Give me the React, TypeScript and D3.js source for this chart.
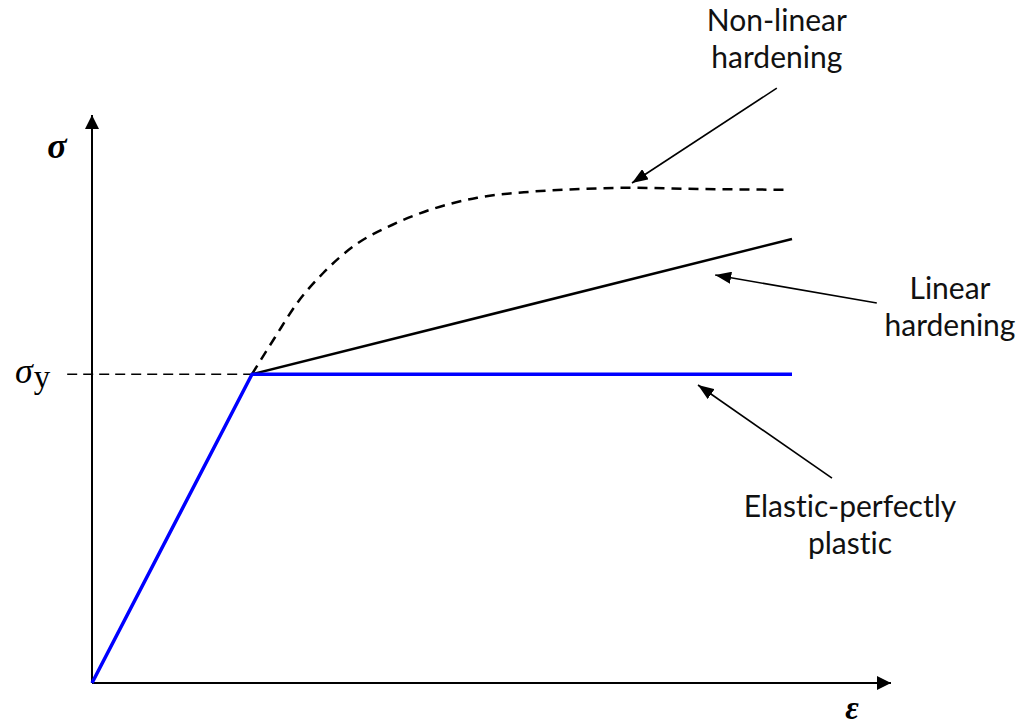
import React from 'react';
import * as d3 from 'd3';

// Chart values in arbitrary strain / stress units
const xMax = 20;
const yMax = 14.2;
const yieldPoint: [number, number] = [4.0, 7.72];
const strainEnd = 17.5;
const linearEndStress = 11.1;

// Non-linear hardening curve
const nonLinearX = [4.0, 4.58, 5.13, 5.78, 6.58, 7.5, 8.45, 9.63, 10.95, 12.2, 13.45, 15.2, 17.45];
const nonLinearY = [7.72, 8.65, 9.5, 10.25, 10.95, 11.45, 11.83, 12.13, 12.28, 12.35, 12.38, 12.35, 12.33];

// Annotation labels and their arrows (tail -> tip), in data units
const labels = [
  { lines: ['Non-linear', 'hardening'], x: 17.12, y: 16.3, tail: [17.12, 14.87], tip: [13.5, 12.5] },
  { lines: ['Linear', 'hardening'], x: 21.45, y: 9.6, tail: [19.62, 9.5], tip: [15.58, 10.2] },
  { lines: ['Elastic-perfectly', 'plastic'], x: 18.95, y: 4.15, tail: [18.5, 5.12], tip: [15.15, 7.45] },
];

const W = 1022;
const H = 725;

export default function App() {
  const x = d3.scaleLinear().domain([0, xMax]).range([92, 892]);
  const y = d3.scaleLinear().domain([0, yMax]).range([683, 115]);

  const line = d3.line<[number, number]>().x(d => x(d[0])).y(d => y(d[1]));
  const curve = d3
    .line<number>()
    .x((_, i) => x(nonLinearX[i]))
    .y((_, i) => y(nonLinearY[i]))
    .curve(d3.curveMonotoneX);

  const elastic: [number, number][] = [[0, 0], yieldPoint, [strainEnd, yieldPoint[1]]];
  const linear: [number, number][] = [yieldPoint, [strainEnd, linearEndStress]];
  const yieldDash: [number, number][] = [[-0.62, yieldPoint[1]], yieldPoint];

  const textFont = 'Lato, "Open Sans", sans-serif';
  const mathFont = '"Liberation Serif", "DejaVu Serif", serif';

  return (
    <div style={{ position: 'absolute', left: 0, top: 0 }}>
      <svg width={W} height={H} style={{ display: 'block', background: '#fff' }}>
        <defs>
          <marker id="axisHead" viewBox="0 0 14 14" refX="14" refY="7" markerWidth="14" markerHeight="14"
            markerUnits="userSpaceOnUse" orient="auto">
            <path d="M0,0 L14,7 L0,14 Z" fill="#000" />
          </marker>
          <marker id="noteHead" viewBox="0 0 16 12" refX="16" refY="6" markerWidth="16" markerHeight="12"
            markerUnits="userSpaceOnUse" orient="auto">
            <path d="M0,0 L16,6 L0,12 Z" fill="#000" />
          </marker>
        </defs>

        {/* axes */}
        <line x1={x(0)} y1={y(0)} x2={x(0)} y2={y(yMax)} stroke="#000" strokeWidth={2} markerEnd="url(#axisHead)" />
        <line x1={x(0)} y1={y(0)} x2={x(xMax) - 1} y2={y(0)} stroke="#000" strokeWidth={2} markerEnd="url(#axisHead)" />

        {/* yield stress dashed guide */}
        <path d={line(yieldDash) || ''} fill="none" stroke="#000" strokeWidth={1.5} strokeDasharray="10 6" />

        {/* non-linear hardening */}
        <path d={curve(nonLinearX) || ''} fill="none" stroke="#000" strokeWidth={2.5} strokeDasharray="10 7" />

        {/* linear hardening */}
        <path d={line(linear) || ''} fill="none" stroke="#000" strokeWidth={2.5} />

        {/* elastic-perfectly plastic */}
        <path d={line(elastic) || ''} fill="none" stroke="#0000ff" strokeWidth={3.5} strokeLinejoin="round" />

        {/* axis labels */}
        <text x={57} y={158} fontFamily={mathFont} fontStyle="italic" fontWeight="bold" fontSize={36} textAnchor="middle">
          σ
        </text>
        <text x={852} y={719} fontFamily={mathFont} fontStyle="italic" fontWeight="bold" fontSize={33} textAnchor="middle">
          ε
        </text>
        <text x={15} y={383} fontFamily={mathFont} fontSize={36}>
          <tspan fontStyle="italic">σ</tspan>
          <tspan fontSize={33} dx={1} dy={5}>y</tspan>
        </text>

        {/* annotations */}
        {labels.map((l, i) => (
          <g key={i}>
            <line x1={x(l.tail[0])} y1={y(l.tail[1])} x2={x(l.tip[0])} y2={y(l.tip[1])}
              stroke="#000" strokeWidth={1.6} markerEnd="url(#noteHead)" />
            <text x={x(l.x)} y={y(l.y)} fontFamily={textFont} fontSize={30} textAnchor="middle" fill="#111"
              style={{ fontVariantLigatures: 'none' }}>
              {l.lines.map((t, j) => (
                <tspan key={j} x={x(l.x)} dy={j === 0 ? 0 : 37}>{t}</tspan>
              ))}
            </text>
          </g>
        ))}
      </svg>
    </div>
  );
}
